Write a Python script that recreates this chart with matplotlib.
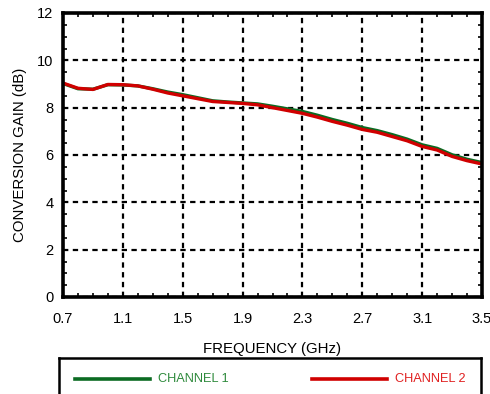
import numpy as np
import matplotlib
matplotlib.use('Agg')
import matplotlib.pyplot as plt
from matplotlib.ticker import MultipleLocator

plt.rcParams['font.family'] = ['Liberation Sans', 'DejaVu Sans']

# frequency (GHz)
freq = [0.7, 0.8, 0.9, 1.0, 1.1, 1.2, 1.3, 1.4, 1.5, 1.6, 1.7, 1.8, 1.9, 2.0,
        2.1, 2.2, 2.3, 2.4, 2.5, 2.6, 2.7, 2.8, 2.9, 3.0, 3.1, 3.2, 3.3, 3.4, 3.5]

# conversion gain (dB)
ch1 = [9.02, 8.80, 8.78, 8.97, 8.96, 8.92, 8.80, 8.66, 8.55, 8.42, 8.29, 8.24,
       8.20, 8.16, 8.06, 7.95, 7.84, 7.68, 7.50, 7.34, 7.16, 7.03, 6.86, 6.67,
       6.43, 6.28, 6.01, 5.82, 5.68]
ch2 = [9.04, 8.82, 8.77, 8.98, 8.97, 8.92, 8.78, 8.62, 8.50, 8.38, 8.26, 8.22,
       8.18, 8.12, 8.00, 7.88, 7.76, 7.60, 7.42, 7.26, 7.08, 6.96, 6.78, 6.60,
       6.36, 6.21, 5.94, 5.76, 5.62]

xticks = [0.7, 1.1, 1.5, 1.9, 2.3, 2.7, 3.1, 3.5]
yticks = [0, 2, 4, 6, 8, 10, 12]

green = '#0b6b22'
red = '#d00000'

fig = plt.figure(figsize=(4.9, 3.94), dpi=100)
ax = fig.add_axes([63 / 490, 1 - 297 / 394, 419 / 490, 284 / 394])

ax.plot(freq, ch1, color=green, lw=2.4)
ax.plot(freq, ch2, color=red, lw=2.4)

ax.set_xlim(0.7, 3.5)
ax.set_ylim(0, 12)
ax.set_xticks(xticks)
ax.set_xticklabels([str(t) for t in xticks])
ax.set_yticks(yticks)
ax.xaxis.set_minor_locator(MultipleLocator(0.1))
ax.yaxis.set_minor_locator(MultipleLocator(0.5))
ax.tick_params(which='both', direction='in', top=True, right=True,
               labelsize=10.5, colors='black')
ax.tick_params(which='major', length=0, pad=11)
ax.tick_params(axis='y', which='major', pad=7)
ax.tick_params(which='minor', length=3, width=1.2)

ax.grid(True, which='major', color='black', linestyle=(0, (2.4, 2.0)), lw=1.6)
for s in ax.spines.values():
    s.set_linewidth(2.6)

ax.set_xlabel('FREQUENCY (GHz)', fontsize=10.8, labelpad=11)
ax.set_ylabel('CONVERSION GAIN (dB)', fontsize=10.8, labelpad=7)

# legend box below the plot
lg = fig.add_axes([59 / 490, 1 - 402 / 394, 422 / 490, 44 / 394])
lg.set_xlim(0, 422)
lg.set_ylim(0, 44)
lg.set_xticks([])
lg.set_yticks([])
for s in lg.spines.values():
    s.set_linewidth(1.8)
lg.plot([16, 91], [23, 23], color=green, lw=2.6)
lg.text(99, 23, 'CHANNEL 1', color='#2e8a3c', fontsize=9.2, va='center')
lg.plot([253, 328], [23, 23], color=red, lw=2.6)
lg.text(336, 23, 'CHANNEL 2', color='#e02020', fontsize=9.2, va='center')

fig.savefig('out.png', dpi=100)
